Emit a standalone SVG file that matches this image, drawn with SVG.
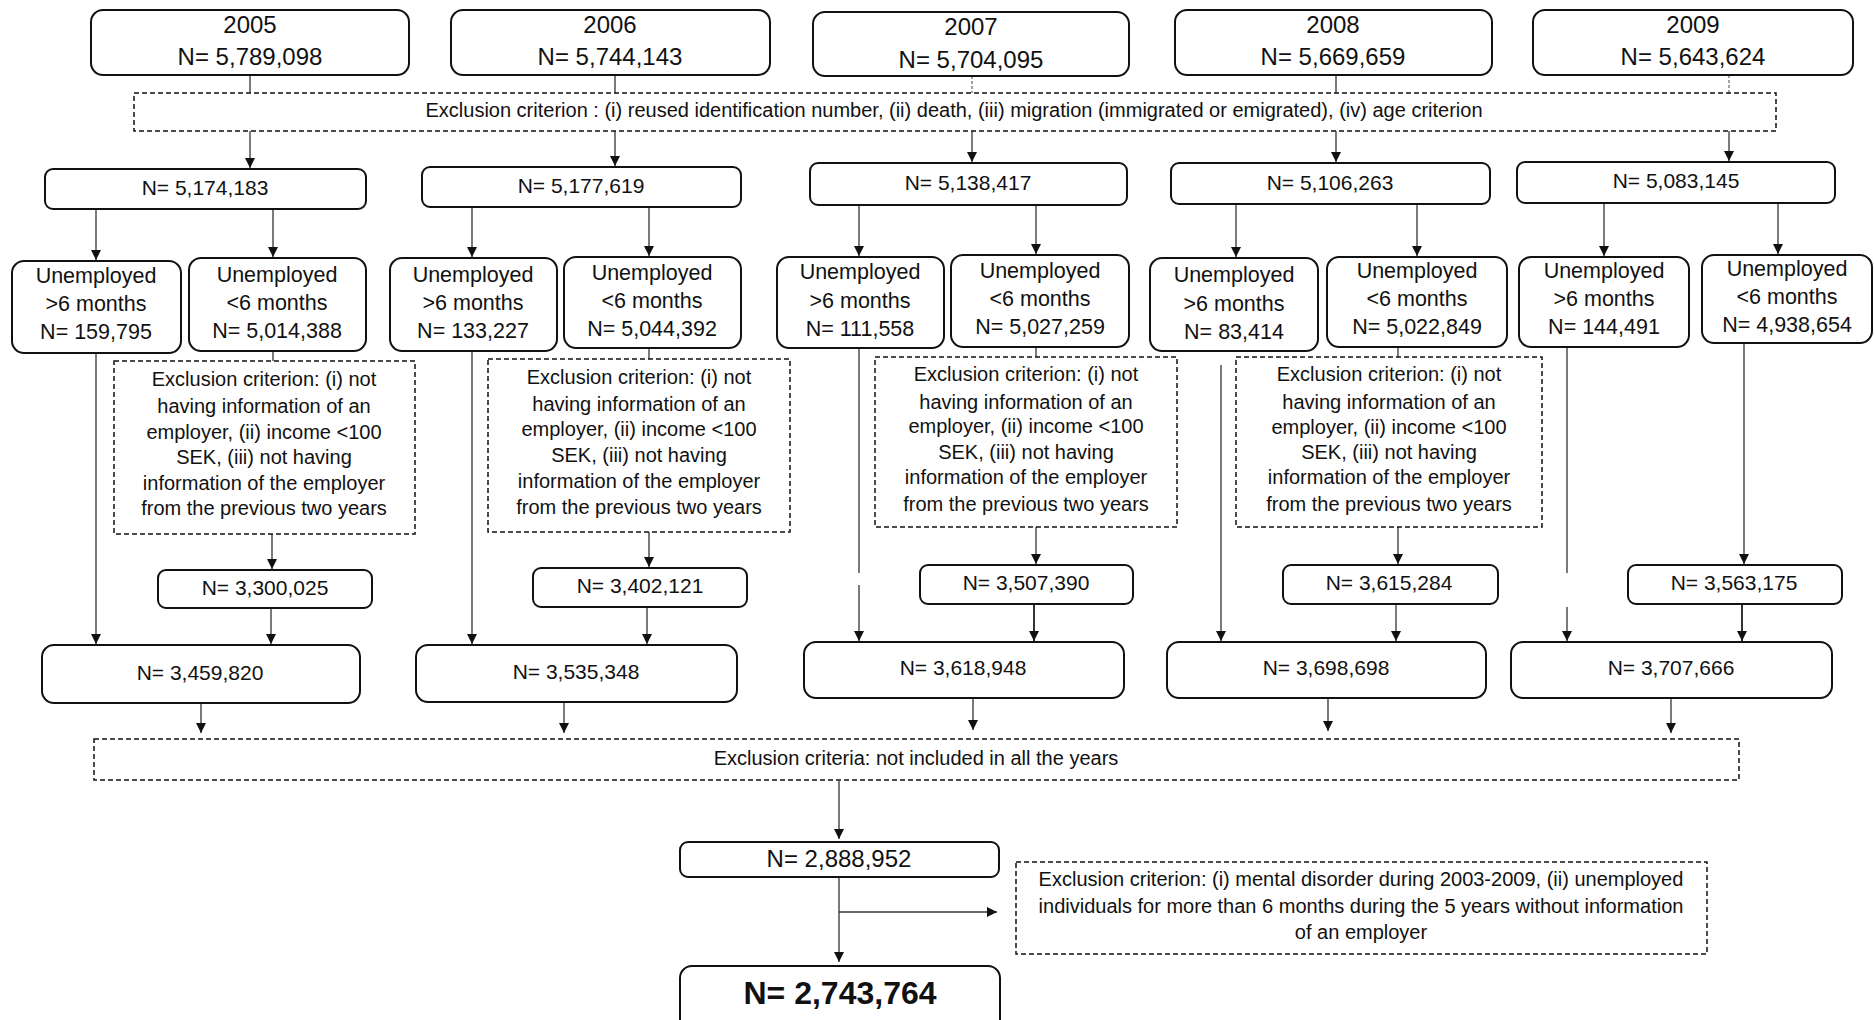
<svg xmlns="http://www.w3.org/2000/svg" width="1874" height="1020" viewBox="0 0 1874 1020">
<defs>
<marker id="arr" markerUnits="userSpaceOnUse" markerWidth="10" markerHeight="10" refX="10" refY="5" orient="auto">
<path d="M0,0 L10,5 L0,10 z" fill="#111"/>
</marker>
<style>
.box{fill:#fff;stroke:#111;stroke-width:2}
.dash{fill:#fff;stroke:#111;stroke-width:1.5;stroke-dasharray:5 3}
.t{font-family:"Liberation Sans",Arial,sans-serif;fill:#111;text-anchor:middle;dominant-baseline:central}
.f24{font-size:24px}.f21{font-size:21px}.f215{font-size:21.5px}.f20{font-size:20px}
.fb{font-size:32px;font-weight:bold}
.c{stroke:#333;stroke-width:1.3;fill:none}
.a{marker-end:url(#arr)}
.dl{stroke:#666;stroke-width:1.2;stroke-dasharray:3 2;fill:none}
</style>
</defs>
<rect width="1874" height="1020" fill="#fff"/>

<g id="connectors">
<line class="c" x1="250" y1="75" x2="250" y2="93"/>
<line class="c" x1="615" y1="75" x2="615" y2="93"/>
<line class="dl" x1="972" y1="76" x2="972" y2="93"/>
<line class="c" x1="1336" y1="75" x2="1336" y2="93"/>
<line class="dl" x1="1729" y1="75" x2="1729" y2="93"/>
<line class="c a" x1="250" y1="131" x2="250" y2="168"/>
<line class="c a" x1="615" y1="131" x2="615" y2="166"/>
<line class="c a" x1="972" y1="131" x2="972" y2="162"/>
<line class="c a" x1="1336" y1="131" x2="1336" y2="162"/>
<line class="c a" x1="1729" y1="131" x2="1729" y2="161"/>

<line class="c a" x1="96" y1="209" x2="96" y2="260"/>
<line class="c a" x1="273" y1="209" x2="273" y2="257"/>
<line class="c a" x1="472" y1="207" x2="472" y2="257"/>
<line class="c a" x1="649" y1="207" x2="649" y2="256"/>
<line class="c a" x1="859" y1="205" x2="859" y2="256"/>
<line class="c a" x1="1036" y1="205" x2="1036" y2="254"/>
<line class="c a" x1="1236" y1="204" x2="1236" y2="257"/>
<line class="c a" x1="1417" y1="204" x2="1417" y2="256"/>
<line class="c a" x1="1604" y1="203" x2="1604" y2="256"/>
<line class="c a" x1="1778" y1="203" x2="1778" y2="254"/>

<line class="c" x1="273" y1="351" x2="273" y2="361"/>
<line class="c" x1="649" y1="348" x2="649" y2="359"/>
<line class="c" x1="1036" y1="347" x2="1036" y2="357"/>
<line class="c" x1="1398" y1="347" x2="1398" y2="357"/>
<line class="c a" x1="272" y1="534" x2="272" y2="569"/>
<line class="c a" x1="649" y1="532" x2="649" y2="567"/>
<line class="c a" x1="1036" y1="527" x2="1036" y2="564"/>
<line class="c a" x1="1398" y1="527" x2="1398" y2="564"/>
<line class="c a" x1="1744" y1="343" x2="1744" y2="564"/>

<line class="c a" x1="271" y1="608" x2="271" y2="644"/>
<line class="c a" x1="647" y1="607" x2="647" y2="644"/>
<line class="c a" x1="1034" y1="604" x2="1034" y2="641" style="stroke-width:2"/>
<line class="c a" x1="1396" y1="604" x2="1396" y2="641"/>
<line class="c a" x1="1742" y1="604" x2="1742" y2="641" style="stroke-width:2"/>

<line class="c a" x1="96" y1="353" x2="96" y2="644"/>
<line class="c a" x1="472" y1="351" x2="472" y2="644"/>
<line class="c" x1="859" y1="348" x2="859" y2="573"/>
<line class="c a" x1="859" y1="585" x2="859" y2="641"/>
<line class="c a" x1="1221" y1="365" x2="1221" y2="641"/>
<line class="c" x1="1567" y1="347" x2="1567" y2="573"/>
<line class="c a" x1="1567" y1="607" x2="1567" y2="641"/>

<line class="c a" x1="201" y1="704" x2="201" y2="733"/>
<line class="c a" x1="564" y1="703" x2="564" y2="733"/>
<line class="c a" x1="973" y1="699" x2="973" y2="730"/>
<line class="c a" x1="1328" y1="699" x2="1328" y2="731"/>
<line class="c a" x1="1671" y1="699" x2="1671" y2="733"/>

<line class="c a" x1="839" y1="781" x2="839" y2="839"/>
<line class="c a" x1="839" y1="877" x2="839" y2="962"/>
<line class="c a" x1="839" y1="912" x2="997" y2="912"/>
</g>

<g id="y2005"><rect class="box" x="91" y="10" width="318" height="65" rx="12"/><text class="t f24" x="250" y="24">2005</text><text class="t f24" x="250" y="56">N= 5,789,098</text></g>
<g id="y2006"><rect class="box" x="451" y="10" width="319" height="65" rx="12"/><text class="t f24" x="610" y="24">2006</text><text class="t f24" x="610" y="56">N= 5,744,143</text></g>
<g id="y2007"><rect class="box" x="813" y="12" width="316" height="64" rx="12"/><text class="t f24" x="971" y="26">2007</text><text class="t f24" x="971" y="59">N= 5,704,095</text></g>
<g id="y2008"><rect class="box" x="1175" y="10" width="317" height="65" rx="12"/><text class="t f24" x="1333" y="24">2008</text><text class="t f24" x="1333" y="56">N= 5,669,659</text></g>
<g id="y2009"><rect class="box" x="1533" y="10" width="320" height="65" rx="12"/><text class="t f24" x="1693" y="24">2009</text><text class="t f24" x="1693" y="56">N= 5,643,624</text></g>

<g id="excl-top"><rect class="dash" x="134" y="93" width="1642" height="38"/><text class="t f20" x="954" y="110">Exclusion criterion : (i) reused identification number, (ii) death, (iii) migration (immigrated or emigrated), (iv) age criterion</text></g>

<g id="n2005"><rect class="box" x="45" y="169" width="321" height="40" rx="8"/><text class="t f21" x="205" y="187">N= 5,174,183</text></g>
<g id="n2006"><rect class="box" x="422" y="167" width="319" height="40" rx="8"/><text class="t f21" x="581" y="185">N= 5,177,619</text></g>
<g id="n2007"><rect class="box" x="810" y="163" width="317" height="42" rx="8"/><text class="t f21" x="968" y="182">N= 5,138,417</text></g>
<g id="n2008"><rect class="box" x="1171" y="163" width="319" height="41" rx="8"/><text class="t f21" x="1330" y="182">N= 5,106,263</text></g>
<g id="n2009"><rect class="box" x="1517" y="162" width="318" height="41" rx="8"/><text class="t f21" x="1676" y="180">N= 5,083,145</text></g>

<g id="u2005a"><rect class="box" x="12" y="261" width="169" height="92" rx="12"/><text class="t f215" x="96" y="276">Unemployed</text><text class="t f215" x="96" y="304">&gt;6 months</text><text class="t f215" x="96" y="332">N= 159,795</text></g>
<g id="u2005b"><rect class="box" x="189" y="258" width="177" height="93" rx="12"/><text class="t f215" x="277" y="275">Unemployed</text><text class="t f215" x="277" y="303">&lt;6 months</text><text class="t f215" x="277" y="331">N= 5,014,388</text></g>
<g id="u2006a"><rect class="box" x="390" y="258" width="167" height="93" rx="12"/><text class="t f215" x="473" y="275">Unemployed</text><text class="t f215" x="473" y="303">&gt;6 months</text><text class="t f215" x="473" y="331">N= 133,227</text></g>
<g id="u2006b"><rect class="box" x="564" y="257" width="177" height="91" rx="12"/><text class="t f215" x="652" y="273">Unemployed</text><text class="t f215" x="652" y="301">&lt;6 months</text><text class="t f215" x="652" y="329">N= 5,044,392</text></g>
<g id="u2007a"><rect class="box" x="777" y="257" width="167" height="91" rx="12"/><text class="t f215" x="860" y="272">Unemployed</text><text class="t f215" x="860" y="301">&gt;6 months</text><text class="t f215" x="860" y="329">N= 111,558</text></g>
<g id="u2007b"><rect class="box" x="951" y="255" width="178" height="92" rx="12"/><text class="t f215" x="1040" y="271">Unemployed</text><text class="t f215" x="1040" y="299">&lt;6 months</text><text class="t f215" x="1040" y="327">N= 5,027,259</text></g>
<g id="u2008a"><rect class="box" x="1150" y="258" width="168" height="93" rx="12"/><text class="t f215" x="1234" y="275">Unemployed</text><text class="t f215" x="1234" y="304">&gt;6 months</text><text class="t f215" x="1234" y="332">N= 83,414</text></g>
<g id="u2008b"><rect class="box" x="1327" y="257" width="180" height="90" rx="12"/><text class="t f215" x="1417" y="271">Unemployed</text><text class="t f215" x="1417" y="299">&lt;6 months</text><text class="t f215" x="1417" y="327">N= 5,022,849</text></g>
<g id="u2009a"><rect class="box" x="1519" y="257" width="170" height="90" rx="12"/><text class="t f215" x="1604" y="271">Unemployed</text><text class="t f215" x="1604" y="299">&gt;6 months</text><text class="t f215" x="1604" y="327">N= 144,491</text></g>
<g id="u2009b"><rect class="box" x="1702" y="255" width="170" height="88" rx="12"/><text class="t f215" x="1787" y="269">Unemployed</text><text class="t f215" x="1787" y="297">&lt;6 months</text><text class="t f215" x="1787" y="325">N= 4,938,654</text></g>

<g id="ex2005"><rect class="dash" x="114" y="361" width="301" height="173"/>
<text class="t f20" x="264" y="379">Exclusion criterion: (i) not</text><text class="t f20" x="264" y="406">having information of an</text><text class="t f20" x="264" y="432">employer, (ii) income &lt;100</text><text class="t f20" x="264" y="457">SEK, (iii) not having</text><text class="t f20" x="264" y="483">information of the employer</text><text class="t f20" x="264" y="508">from the previous two years</text></g>
<g id="ex2006"><rect class="dash" x="488" y="359" width="302" height="173"/>
<text class="t f20" x="639" y="377">Exclusion criterion: (i) not</text><text class="t f20" x="639" y="404">having information of an</text><text class="t f20" x="639" y="429">employer, (ii) income &lt;100</text><text class="t f20" x="639" y="455">SEK, (iii) not having</text><text class="t f20" x="639" y="481">information of the employer</text><text class="t f20" x="639" y="507">from the previous two years</text></g>
<g id="ex2007"><rect class="dash" x="875" y="357" width="302" height="170"/>
<text class="t f20" x="1026" y="374">Exclusion criterion: (i) not</text><text class="t f20" x="1026" y="402">having information of an</text><text class="t f20" x="1026" y="426">employer, (ii) income &lt;100</text><text class="t f20" x="1026" y="452">SEK, (iii) not having</text><text class="t f20" x="1026" y="477">information of the employer</text><text class="t f20" x="1026" y="504">from the previous two years</text></g>
<g id="ex2008"><rect class="dash" x="1236" y="357" width="306" height="170"/>
<text class="t f20" x="1389" y="374">Exclusion criterion: (i) not</text><text class="t f20" x="1389" y="402">having information of an</text><text class="t f20" x="1389" y="427">employer, (ii) income &lt;100</text><text class="t f20" x="1389" y="452">SEK, (iii) not having</text><text class="t f20" x="1389" y="477">information of the employer</text><text class="t f20" x="1389" y="504">from the previous two years</text></g>

<g id="m2005"><rect class="box" x="158" y="570" width="214" height="38" rx="8"/><text class="t f21" x="265" y="587">N= 3,300,025</text></g>
<g id="m2006"><rect class="box" x="533" y="568" width="214" height="39" rx="8"/><text class="t f21" x="640" y="585">N= 3,402,121</text></g>
<g id="m2007"><rect class="box" x="920" y="565" width="213" height="39" rx="8"/><text class="t f21" x="1026" y="582">N= 3,507,390</text></g>
<g id="m2008"><rect class="box" x="1283" y="565" width="215" height="39" rx="8"/><text class="t f21" x="1389" y="582">N= 3,615,284</text></g>
<g id="m2009"><rect class="box" x="1628" y="565" width="214" height="39" rx="8"/><text class="t f21" x="1734" y="582">N= 3,563,175</text></g>

<g id="r2005"><rect class="box" x="42" y="645" width="318" height="58" rx="12"/><text class="t f21" x="200" y="672">N= 3,459,820</text></g>
<g id="r2006"><rect class="box" x="416" y="645" width="321" height="57" rx="12"/><text class="t f21" x="576" y="671">N= 3,535,348</text></g>
<g id="r2007"><rect class="box" x="804" y="642" width="320" height="56" rx="12"/><text class="t f21" x="963" y="667">N= 3,618,948</text></g>
<g id="r2008"><rect class="box" x="1167" y="642" width="319" height="56" rx="12"/><text class="t f21" x="1326" y="667">N= 3,698,698</text></g>
<g id="r2009"><rect class="box" x="1511" y="642" width="321" height="56" rx="12"/><text class="t f21" x="1671" y="667">N= 3,707,666</text></g>

<g id="excl-all"><rect class="dash" x="94" y="739" width="1645" height="41"/><text class="t f20" x="916" y="758">Exclusion criteria: not included in all the years</text></g>

<g id="n2888"><rect class="box" x="680" y="842" width="319" height="35" rx="8"/><text class="t f24" x="839" y="858">N= 2,888,952</text></g>

<g id="excl-final"><rect class="dash" x="1016" y="862" width="691" height="92"/>
<text class="t f20" x="1361" y="879">Exclusion criterion: (i) mental disorder during 2003-2009, (ii) unemployed</text>
<text class="t f20" x="1361" y="906">individuals for more than 6 months during the 5 years without information</text>
<text class="t f20" x="1361" y="932">of an employer</text></g>

<g id="final"><rect class="box" x="680" y="966" width="320" height="70" rx="12"/><text class="t fb" x="840" y="993">N= 2,743,764</text></g>
</svg>
